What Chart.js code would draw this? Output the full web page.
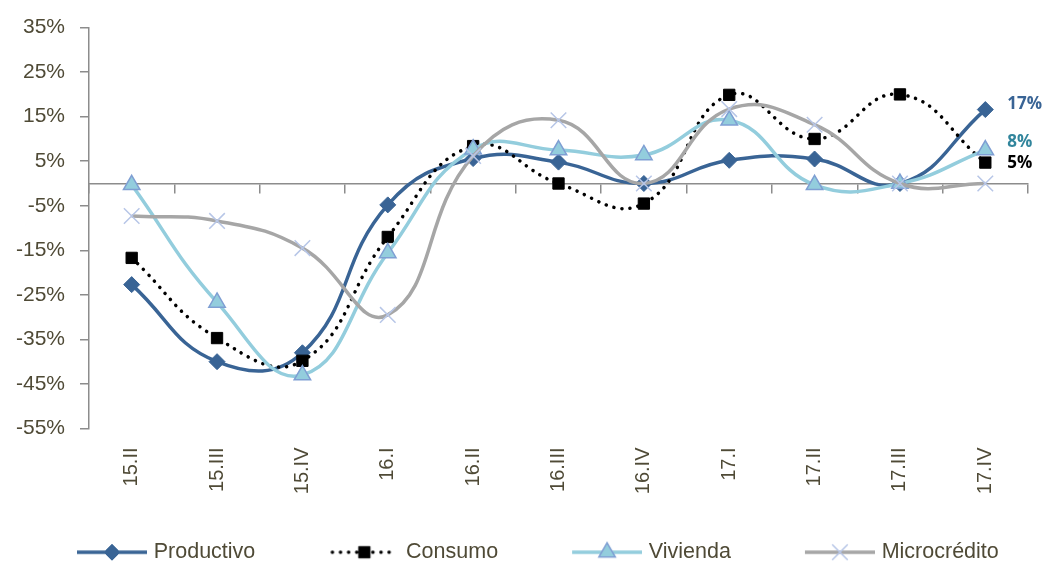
<!DOCTYPE html>
<html>
<head>
<meta charset="utf-8">
<script src="https://cdn.jsdelivr.net/npm/chart.js@4/dist/chart.umd.min.js"></script>
<style>
  html, body { margin: 0; padding: 0; background: #fff; }
</style>
</head>
<body>
<canvas id="c1" width="1043" height="561"></canvas>
<script>
const categories = ['15.II', '15.III', '15.IV', '16.I', '16.II', '16.III', '16.IV', '17.I', '17.II', '17.III', '17.IV'];
const productivo = [-22.7, -40, -38, -4.8, 5.6, 4.8, 0, 5.2, 5.5, 0, 16.6];
const consumo = [-16.7, -34.7, -39.8, -12, 8.4, 0, -4.5, 19.9, 10, 20, 4.7];
const vivienda = [-0.3, -26.7, -43, -15.6, 7.7, 7.5, 6.4, 14.2, -0.3, 0, 7.5];
const microcredito = [-7.3, -8.4, -14.5, -29.5, 6.2, 14.2, 0, 16.7, 13.2, 0, 0];
const yTicks = [-55, -45, -35, -25, -15, -5, 5, 15, 25, 35];
const seriesNames = ['Productivo', 'Consumo', 'Vivienda', 'Microcrédito'];
const endLabels = ['17%', '5%', '8%', null];

const textColor = '#4f4a36';
const axisColor = '#8c8c8c';
const fontFamily = '"Liberation Sans", Arial, sans-serif';

// line sample + marker for the legend, drawn with Chart.js' own point helper
function makeIcon(ds) {
    const c = document.createElement('canvas');
    c.width = 146;
    c.height = 24;
    const ctx = c.getContext('2d');
    ctx.save();
    ctx.strokeStyle = ds.borderColor;
    ctx.lineWidth = ds.borderWidth;
    ctx.lineCap = ds.borderDash ? 'round' : 'butt';
    if (ds.borderDash) ctx.setLineDash(ds.borderDash);
    ctx.beginPath();
    ctx.moveTo(ds.borderDash ? 79 : 76, 12);
    ctx.lineTo(ds.borderDash ? 143 : 146, 12);
    ctx.stroke();
    ctx.restore();
    ctx.fillStyle = ds.pointBackgroundColor;
    ctx.strokeStyle = ds.pointBorderColor;
    ctx.lineWidth = ds.pointBorderWidth;
    Chart.helpers.drawPoint(ctx, {
        pointStyle: ds.pointStyle,
        radius: ds.pointRadius,
        rotation: 0,
        borderWidth: ds.pointBorderWidth
    }, 111, 12);
    return c;
}

const endLabelPlugin = {
    id: 'endLabels',
    afterDatasetsDraw(chart) {
        const ctx = chart.ctx;
        chart.data.datasets.forEach((ds, i) => {
            if (!ds.endLabel) return;
            const meta = chart.getDatasetMeta(i);
            const pt = meta.data[meta.data.length - 1];
            ctx.save();
            ctx.font = 'bold 17px "Open Sans", sans-serif';
            ctx.fillStyle = ds.endLabelColor;
            ctx.textBaseline = 'middle';
            ctx.textAlign = 'left';
            ctx.fillText(ds.endLabel, pt.x + 22, pt.y + ds.endLabelDy);
            ctx.restore();
        });
    }
};

const datasets = [
    {
        label: seriesNames[0],
        data: productivo,
        borderColor: '#396495',
        borderWidth: 3.5,
        pointStyle: 'rectRot',
        pointRadius: 8,
        pointBackgroundColor: '#396495',
        pointBorderColor: '#396495',
        pointBorderWidth: 1,
        order: 3,
        endLabel: endLabels[0],
        endLabelColor: '#396495',
        endLabelDy: -5
    },
    {
        label: seriesNames[1],
        data: consumo,
        borderColor: '#000000',
        borderWidth: 3.5,
        borderDash: [0.1, 8],
        borderCapStyle: 'round',
        pointStyle: 'rect',
        pointRadius: 8,
        pointBackgroundColor: '#000000',
        pointBorderColor: '#000000',
        pointBorderWidth: 1,
        order: 2,
        endLabel: endLabels[1],
        endLabelColor: '#000000',
        endLabelDy: 1
    },
    {
        label: seriesNames[2],
        data: vivienda,
        borderColor: '#93cddd',
        borderWidth: 3.5,
        pointStyle: 'triangle',
        pointRadius: 9.5,
        pointBackgroundColor: '#93cddd',
        pointBorderColor: '#7f9fd3',
        pointBorderWidth: 1.5,
        order: 1,
        endLabel: endLabels[2],
        endLabelColor: '#31859c',
        endLabelDy: -8
    },
    {
        label: seriesNames[3],
        data: microcredito,
        borderColor: '#a6a6a6',
        borderWidth: 3.5,
        pointStyle: 'crossRot',
        pointRadius: 11,
        pointBackgroundColor: '#b7c6e7',
        pointBorderColor: '#b7c6e7',
        pointBorderWidth: 1.5,
        order: 0,
        endLabel: endLabels[3]
    }
];

const icons = datasets.map(makeIcon);

new Chart(document.getElementById('c1'), {
    type: 'line',
    data: {
        labels: categories,
        datasets: datasets
    },
    plugins: [endLabelPlugin],
    options: {
        responsive: false,
        animation: false,
        layout: {
            padding: { left: 3, right: 15, top: 25, bottom: -12 }
        },
        elements: {
            line: { tension: 0.45, fill: false }
        },
        plugins: {
            legend: {
                position: 'bottom',
                align: 'start',
                labels: {
                    usePointStyle: true,
                    pointStyleWidth: 138,
                    padding: 2,
                    color: textColor,
                    font: { family: fontFamily, size: 21.5 },
                    generateLabels: function (chart) {
                        return chart.data.datasets.map((ds, i) => ({
                            text: ds.label,
                            pointStyle: icons[i],
                            fontColor: textColor,
                            fillStyle: 'rgba(0,0,0,0)',
                            strokeStyle: 'rgba(0,0,0,0)',
                            lineWidth: 0,
                            hidden: false,
                            datasetIndex: i
                        }));
                    }
                }
            },
            tooltip: { enabled: false }
        },
        scales: {
            x: {
                type: 'category',
                offset: true,
                grid: { display: false },
                border: { display: false },
                ticks: {
                    color: textColor,
                    font: { family: fontFamily, size: 20 },
                    minRotation: 90,
                    maxRotation: 90,
                    padding: 11,
                    autoSkip: false
                },
                afterFit: function (s) { s.height = 111; }
            },
            x2: {
                type: 'category',
                labels: categories,
                offset: true,
                position: { y: 0 },
                grid: {
                    display: true,
                    offset: true,
                    drawOnChartArea: false,
                    drawTicks: true,
                    tickLength: 9,
                    color: axisColor,
                    lineWidth: 1.5
                },
                border: { display: true, color: axisColor, width: 1.5 },
                ticks: { display: false }
            },
            y: {
                min: -55,
                max: 35,
                afterBuildTicks: function (s) {
                    s.ticks = yTicks.map(v => ({ value: v }));
                },
                grid: {
                    display: true,
                    drawOnChartArea: false,
                    drawTicks: true,
                    tickLength: 9,
                    color: axisColor,
                    lineWidth: 1.5
                },
                border: { display: true, color: axisColor, width: 1.5 },
                ticks: {
                    color: textColor,
                    font: { family: fontFamily, size: 21 },
                    padding: 15,
                    callback: function (v) { return v + '%'; }
                },
                afterFit: function (s) { s.width = 86; }
            }
        }
    }
});
</script>
</body>
</html>
